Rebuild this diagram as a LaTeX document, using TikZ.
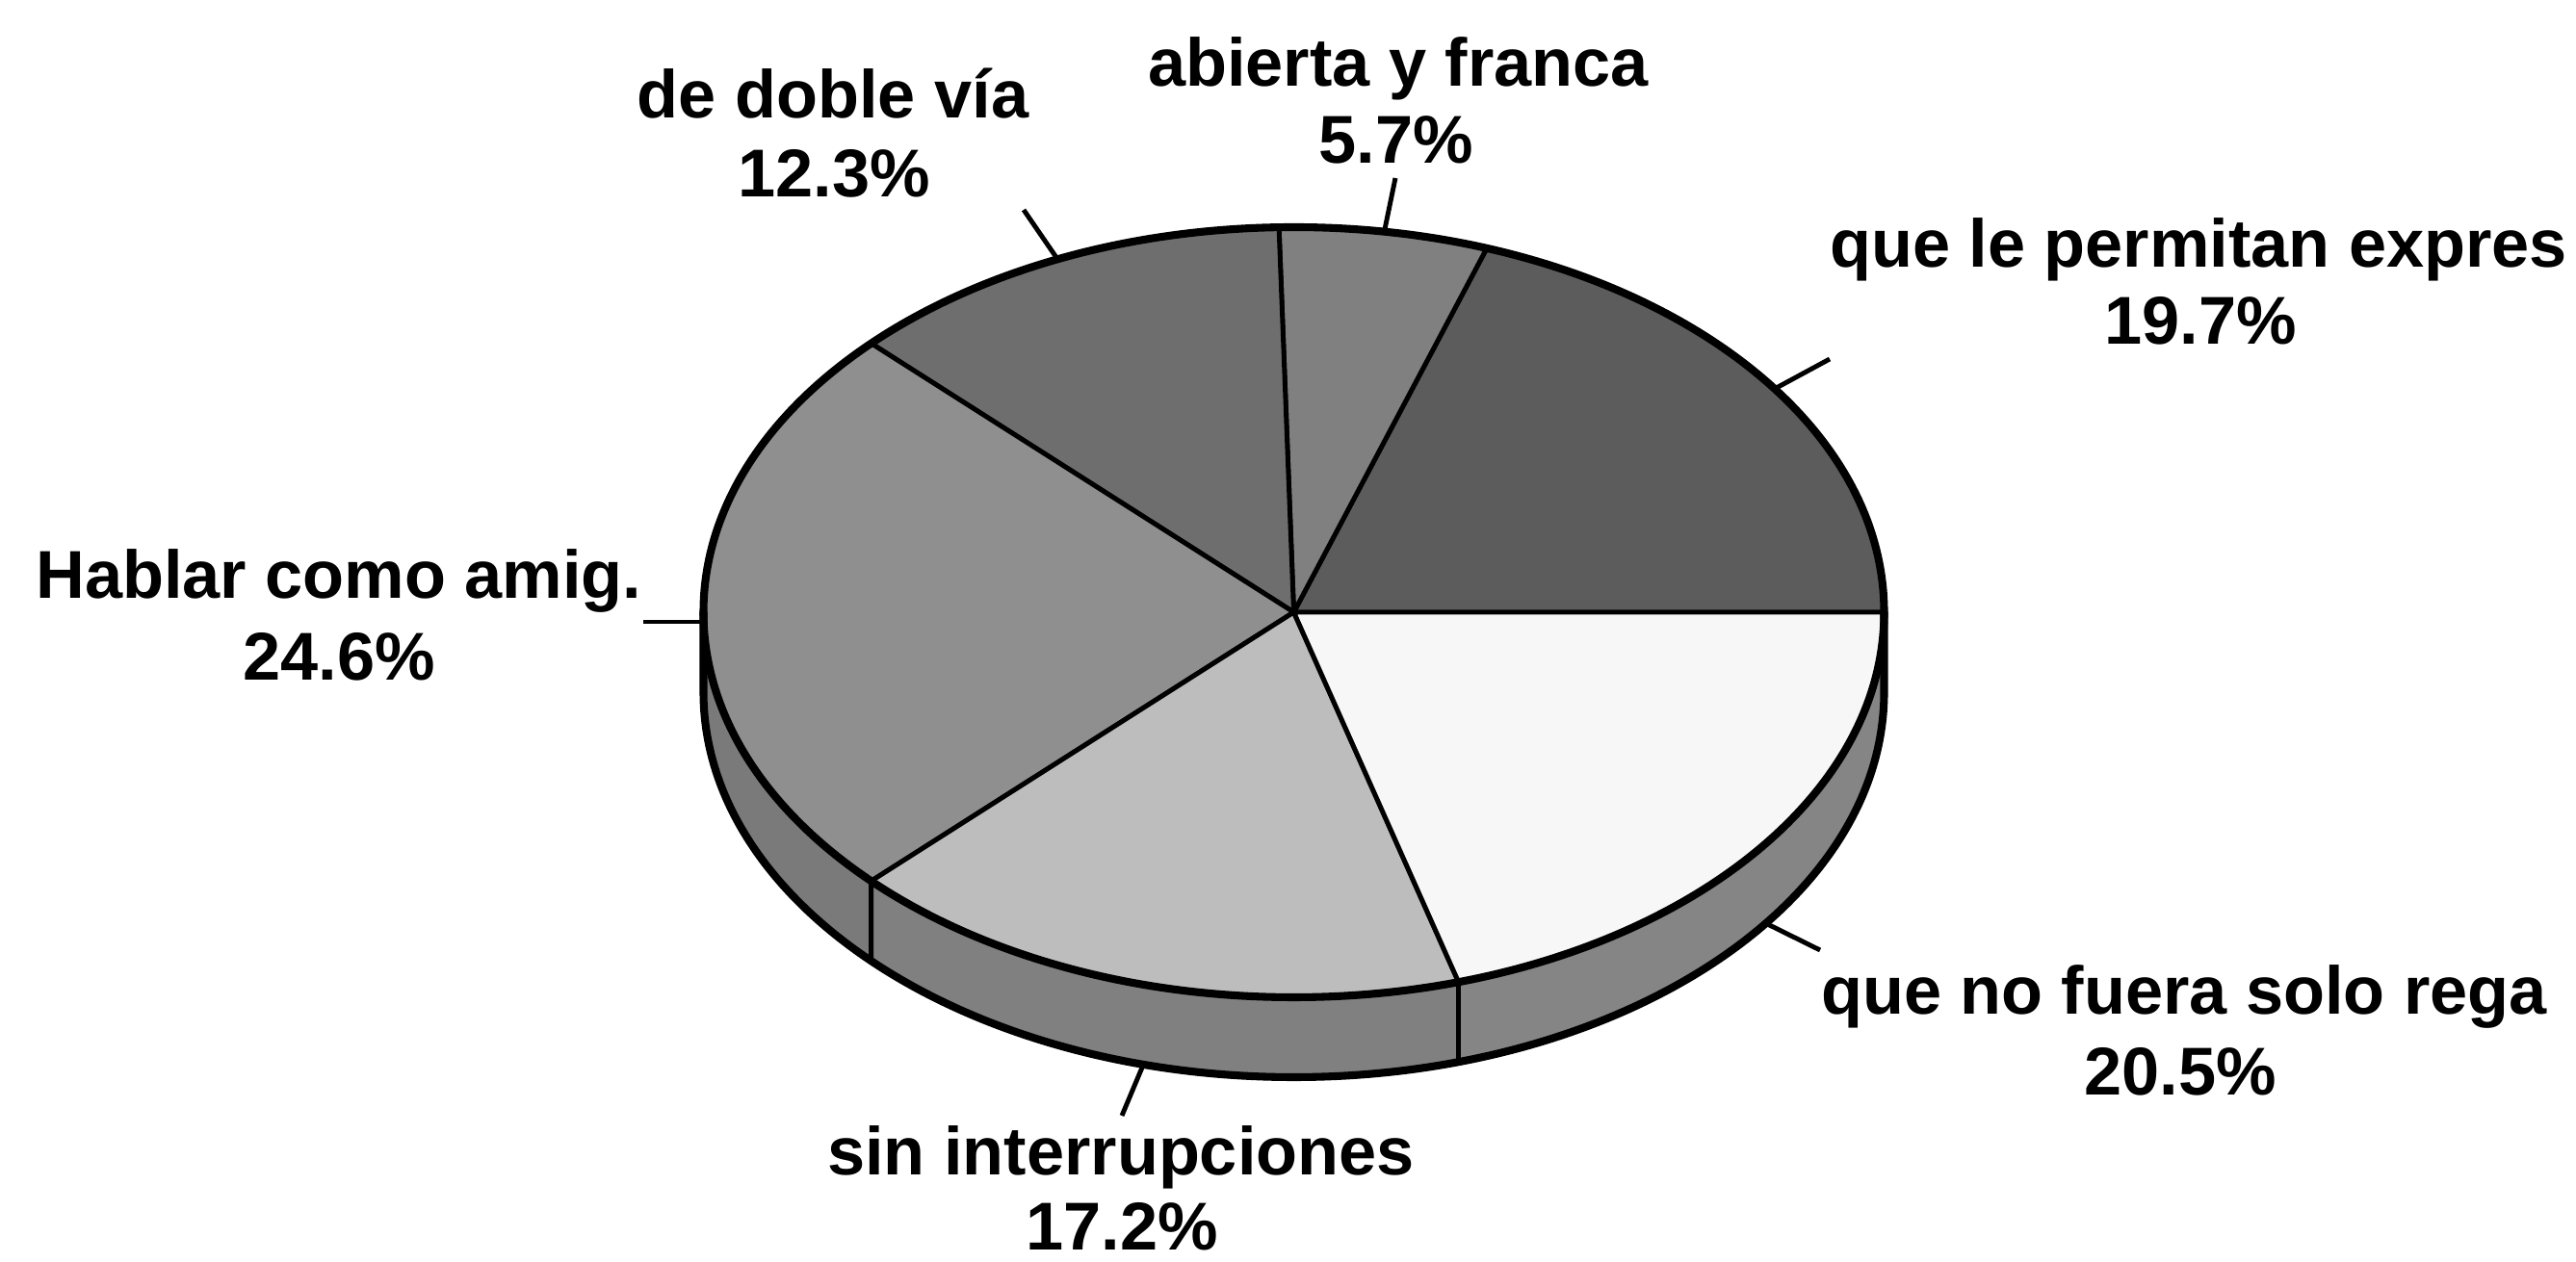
\documentclass[tikz,border=0pt]{standalone}
\usepackage{fontspec}
\setmainfont{Liberation Sans}
\usetikzlibrary{calc}
\definecolor{cPerm}{gray}{0.36}
\definecolor{cAbi}{gray}{0.50}
\definecolor{cDob}{gray}{0.43}
\definecolor{cHab}{gray}{0.56}
\definecolor{cSin}{gray}{0.74}
\definecolor{cNof}{gray}{0.97}
\definecolor{cHabSide}{gray}{0.48}
\definecolor{cSinSide}{gray}{0.50}
\definecolor{cNofSide}{gray}{0.52}
\begin{document}
\begin{tikzpicture}[
  lbl/.style={font=\fontsize{20}{24}\selectfont\bfseries, anchor=base, inner sep=0pt},
  rim/.style={line width=2.3pt, line join=round, line cap=round},
  sepline/.style={line width=1.4pt, line join=round},
  tickline/.style={line width=1.4pt},
]
\useasboundingbox (0,0) rectangle (26.75,13.11);
\coordinate (C) at (13.435,6.75);
\coordinate (Cb) at (13.435,5.92);

% side faces
\filldraw[fill=cHabSide, sepline] ($(C)+(180:6.13 and 4.00)$)
  arc[start angle=180, end angle=224.28, x radius=6.13, y radius=4.00]
  -- ++(0,-0.83)
  arc[start angle=224.28, end angle=180, x radius=6.13, y radius=4.00] -- cycle;
\filldraw[fill=cSinSide, sepline] ($(C)+(224.28:6.13 and 4.00)$)
  arc[start angle=224.28, end angle=286.2, x radius=6.13, y radius=4.00]
  -- ++(0,-0.83)
  arc[start angle=286.2, end angle=224.28, x radius=6.13, y radius=4.00] -- cycle;
\filldraw[fill=cNofSide, sepline] ($(C)+(286.2:6.13 and 4.00)$)
  arc[start angle=286.2, end angle=360, x radius=6.13, y radius=4.00]
  -- ++(0,-0.83)
  arc[start angle=360, end angle=286.2, x radius=6.13, y radius=4.00] -- cycle;

% top slices
\filldraw[fill=cPerm, sepline] (C) -- ($(C)+(0:6.13 and 4.00)$)
  arc[start angle=0, end angle=70.92, x radius=6.13, y radius=4.00] -- cycle;
\filldraw[fill=cAbi, sepline] (C) -- ($(C)+(70.92:6.13 and 4.00)$)
  arc[start angle=70.92, end angle=91.44, x radius=6.13, y radius=4.00] -- cycle;
\filldraw[fill=cDob, sepline] (C) -- ($(C)+(91.44:6.13 and 4.00)$)
  arc[start angle=91.44, end angle=135.72, x radius=6.13, y radius=4.00] -- cycle;
\filldraw[fill=cHab, sepline] (C) -- ($(C)+(135.72:6.13 and 4.00)$)
  arc[start angle=135.72, end angle=224.28, x radius=6.13, y radius=4.00] -- cycle;
\filldraw[fill=cSin, sepline] (C) -- ($(C)+(224.28:6.13 and 4.00)$)
  arc[start angle=224.28, end angle=286.2, x radius=6.13, y radius=4.00] -- cycle;
\filldraw[fill=cNof, sepline] (C) -- ($(C)+(286.2:6.13 and 4.00)$)
  arc[start angle=286.2, end angle=360, x radius=6.13, y radius=4.00] -- cycle;

% outline
\draw[rim] (C) ellipse[x radius=6.13, y radius=4.00];
\draw[rim] ($(C)+(180:6.13 and 4.00)$) -- ++(0,-0.83)
  arc[start angle=180, end angle=360, x radius=6.13, y radius=4.00] -- ++(0,0.83);

% labels
\node[lbl] (l1) at (8.65,11.88) {de doble vía};
\node[lbl] (p1) at (8.66,11.06) {12.3\%};
\node[lbl] (l2) at (14.52,12.21) {abierta y franca};
\node[lbl] (p2) at (14.50,11.41) {5.7\%};
\node[lbl] (l3) at (22.83,10.33) {que le permitan expres};
\node[lbl] (p3) at (22.85,9.53) {19.7\%};
\node[lbl] (l4) at (3.52,6.89) {Hablar como amig.};
\node[lbl] (p4) at (3.52,6.04) {24.6\%};
\node[lbl] (l5) at (22.68,2.57) {que no fuera solo rega};
\node[lbl] (p5) at (22.64,1.73) {20.5\%};
\node[lbl] (l6) at (11.64,0.90) {sin interrupciones};
\node[lbl] (p6) at (11.65,0.12) {17.2\%};

% leader ticks
\coordinate (t1a) at ($(C)+(113.58:6.13 and 4.00)$);
\coordinate (t1b) at (10.63,10.93);
\coordinate (t2a) at ($(C)+(81.18:6.13 and 4.00)$);
\coordinate (t2b) at (14.49,11.26);
\coordinate (t3a) at ($(C)+(35.46:6.13 and 4.00)$);
\coordinate (t3b) at (19.00,9.38);
\coordinate (t4a) at (7.31,6.65);
\coordinate (t4b) at (6.68,6.65);
\coordinate (t5a) at ($(Cb)+(323.1:6.13 and 4.00)$);
\coordinate (t5b) at (18.90,3.24);
\coordinate (t6a) at ($(Cb)+(255.24:6.13 and 4.00)$);
\coordinate (t6b) at (11.65,1.52);
\draw[tickline] (t1a) -- (t1b);
\draw[tickline] (t2a) -- (t2b);
\draw[tickline] (t3a) -- (t3b);
\draw[tickline] (t4a) -- (t4b);
\draw[tickline] (t5a) -- (t5b);
\draw[tickline] (t6a) -- (t6b);
\end{tikzpicture}
\end{document}
